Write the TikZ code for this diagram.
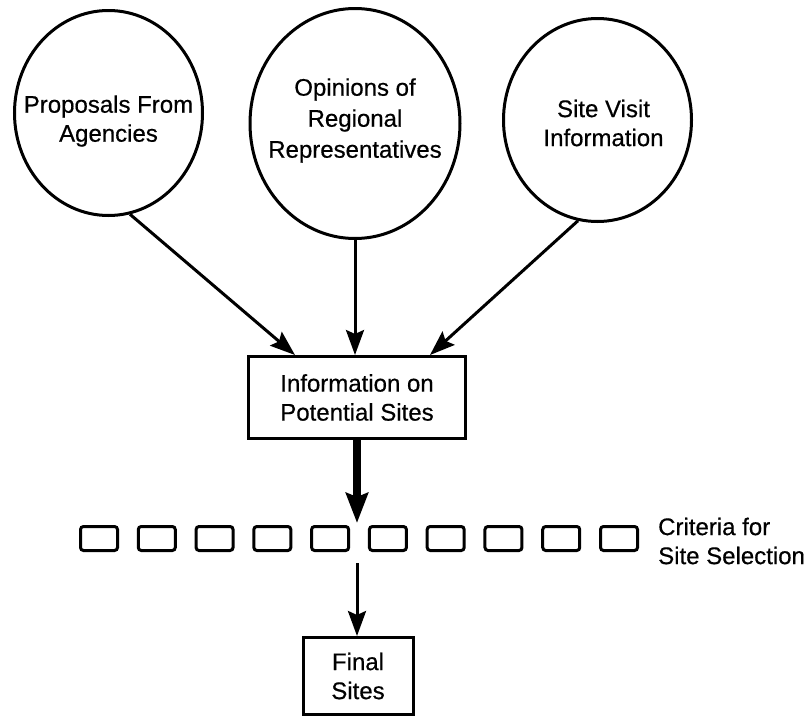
\documentclass[tikz,border=0pt]{standalone}
\usepackage{fontspec}
\setmainfont{Liberation Sans}
\newfontfamily\diagfont{Liberation Sans}[FakeBold=0.5]
\usetikzlibrary{shapes.geometric,arrows.meta}

\begin{document}
\begin{tikzpicture}[x=1pt,y=-1pt,
  every node/.style={font=\diagfont\fontsize{24}{29}\selectfont},
  source/.style={ellipse, draw, line width=3pt, inner sep=0pt},
  txt/.style={align=center, inner sep=0pt},
  infobox/.style={draw, line width=3pt, rectangle, inner sep=0pt, align=center},
  crit/.style={draw, line width=3pt, rounded corners=3pt,
               minimum width=37pt, minimum height=24pt, inner sep=0pt},
  feed/.style={line width=3pt, -{Stealth[length=25pt,width=18pt,inset=4pt]}},
  heavy/.style={line width=8pt, -{Stealth[length=30pt,width=22pt,inset=4pt]}}
]
\useasboundingbox (0,0) rectangle (809,718);

% input sources
\node[source, minimum width=188pt, minimum height=205pt] (L) at (108.5,113) {};
\node[txt] (Lt) at ([yshift=-8pt]L.center) {Proposals From\\Agencies};

\node[source, minimum width=210pt, minimum height=230pt] (M) at (355,123.5) {};
\node[txt, font=\diagfont\fontsize{24}{31}\selectfont] (Mt) at ([yshift=3pt]M.center)
  {Opinions of\\Regional\\Representatives};

\node[source, minimum width=188pt, minimum height=203pt] (R) at (597.5,120) {};
\node[txt] (Rt) at ([xshift=6pt,yshift=-3pt]R.center) {Site Visit\\Information};

% collected information
\node[infobox, minimum width=217pt, minimum height=82pt] (info) at (357,397.5)
  {Information on\\Potential Sites};

% selection criteria
\foreach \i in {1,...,10}
  \node[crit] (c\i) at ({99+57.78*(\i-1)},538.5) {};
\node[txt, anchor=west, align=left] (crittext) at (658,541) {Criteria for\\Site Selection};

% result
\node[infobox, minimum width=110pt, minimum height=77pt] (final) at (358,676) {Final\\Sites};

% connectors
\draw[feed] (L.-78) -- ([xshift=-62pt]info.north);
\draw[feed] (M.south) -- (M.south |- info.north);
\draw[feed] (R.-101) -- ([xshift=73pt]info.north);

\coordinate (gapTop) at (357,523);
\coordinate (gapBot) at (357,563);
\draw[heavy] (info.south) -- (gapTop);
\draw[feed] (gapBot) -- (gapBot |- final.north);
\end{tikzpicture}
\end{document}
